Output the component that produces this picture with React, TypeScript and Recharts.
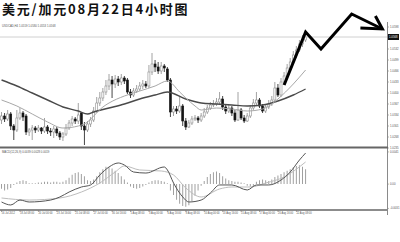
import React from 'react';
import { ComposedChart, Bar, Line, XAxis, YAxis, ReferenceLine } from 'recharts';

// 4-hour USD/CAD candles
const OPEN = [
  1.0319, 1.0331, 1.0322, 1.0337, 1.0301, 1.0289, 1.0325, 1.034, 1.0331, 1.0283,
  1.0289, 1.0295, 1.0289, 1.0295, 1.0286, 1.0298, 1.0286, 1.0283, 1.0292, 1.028,
  1.0268, 1.0277, 1.0295, 1.031, 1.0322, 1.0316, 1.034, 1.0301, 1.0289, 1.0307,
  1.0319, 1.0346, 1.037, 1.0385, 1.0403, 1.0421, 1.0439, 1.0427, 1.0442, 1.0433,
  1.0445, 1.0439, 1.0403, 1.0394, 1.0406, 1.0412, 1.0421, 1.0427, 1.0421, 1.0463,
  1.0487, 1.0478, 1.0466, 1.0481, 1.0472, 1.0439, 1.0343, 1.0352, 1.0346, 1.0361,
  1.0316, 1.0298, 1.031, 1.0322, 1.0325, 1.0319, 1.0331, 1.0343, 1.0355, 1.0364,
  1.0367, 1.0373, 1.0382, 1.0358, 1.0346, 1.0355, 1.034, 1.0319, 1.0349, 1.0325,
  1.0316, 1.0331, 1.0355, 1.037, 1.0379, 1.0361, 1.0346, 1.0358, 1.0367, 1.0379,
  1.0415, 1.0394, 1.0433, 1.0451, 1.0475, 1.0493, 1.0514, 1.0529, 1.0547, 1.0559,
];
const HIGH = [
  1.0343, 1.034, 1.0349, 1.0343, 1.0307, 1.0349, 1.0355, 1.0346, 1.0337, 1.0295,
  1.0304, 1.0301, 1.0304, 1.0298, 1.0325, 1.0304, 1.0295, 1.0301, 1.0298, 1.0286,
  1.0283, 1.0307, 1.0319, 1.0331, 1.0328, 1.037, 1.0343, 1.0313, 1.0316, 1.0328,
  1.0358, 1.0388, 1.0403, 1.0415, 1.0439, 1.0457, 1.0451, 1.0454, 1.0451, 1.0457,
  1.0451, 1.0445, 1.0412, 1.0415, 1.0424, 1.0433, 1.0439, 1.0436, 1.0484, 1.052,
  1.0499, 1.0493, 1.0493, 1.0487, 1.0478, 1.0445, 1.0361, 1.0361, 1.0388, 1.0367,
  1.0325, 1.0319, 1.0331, 1.0334, 1.0331, 1.034, 1.0355, 1.0364, 1.0373, 1.0379,
  1.0385, 1.0403, 1.0391, 1.0367, 1.0364, 1.0361, 1.0349, 1.0403, 1.0355, 1.0334,
  1.034, 1.0364, 1.0382, 1.0403, 1.0385, 1.0367, 1.0367, 1.0379, 1.0391, 1.0433,
  1.0427, 1.0445, 1.0463, 1.0487, 1.0505, 1.0526, 1.0541, 1.0559, 1.0574, 1.058,
];
const LOW = [
  1.0307, 1.0313, 1.0316, 1.0289, 1.0259, 1.0283, 1.0319, 1.0316, 1.0274, 1.0271,
  1.0259, 1.028, 1.0283, 1.0277, 1.028, 1.0277, 1.0271, 1.0265, 1.0271, 1.0259,
  1.0256, 1.0271, 1.0289, 1.0301, 1.0307, 1.0307, 1.0289, 1.0244, 1.0283, 1.0298,
  1.0313, 1.034, 1.0361, 1.0376, 1.0394, 1.0409, 1.0385, 1.0415, 1.0421, 1.0424,
  1.0427, 1.0397, 1.0385, 1.0388, 1.04, 1.0406, 1.0412, 1.0415, 1.0415, 1.0454,
  1.0463, 1.0457, 1.0457, 1.0463, 1.0433, 1.0328, 1.0331, 1.0337, 1.034, 1.0301,
  1.0289, 1.0295, 1.0304, 1.0316, 1.031, 1.0313, 1.0325, 1.0337, 1.0349, 1.0358,
  1.0361, 1.0364, 1.0349, 1.0337, 1.034, 1.0331, 1.0313, 1.0316, 1.0319, 1.031,
  1.0313, 1.0325, 1.0349, 1.0361, 1.0355, 1.034, 1.034, 1.0352, 1.0361, 1.0373,
  1.0388, 1.0388, 1.0424, 1.0445, 1.0469, 1.0487, 1.0505, 1.0523, 1.0538, 1.0553,
];
const CLOSE = [
  1.0331, 1.0322, 1.0337, 1.0301, 1.0289, 1.0325, 1.034, 1.0328, 1.0283, 1.0289,
  1.0295, 1.0289, 1.0295, 1.0286, 1.0298, 1.0286, 1.0283, 1.0292, 1.028, 1.0268,
  1.0277, 1.0295, 1.031, 1.0322, 1.0316, 1.0334, 1.0301, 1.0289, 1.0307, 1.0319,
  1.0346, 1.037, 1.0385, 1.0403, 1.0421, 1.0439, 1.0427, 1.0442, 1.0433, 1.0445,
  1.0436, 1.0403, 1.0394, 1.0406, 1.0412, 1.0421, 1.0427, 1.0421, 1.0463, 1.0487,
  1.0478, 1.0466, 1.0481, 1.0475, 1.0439, 1.0343, 1.0352, 1.0346, 1.0361, 1.0316,
  1.0298, 1.031, 1.0322, 1.0325, 1.0319, 1.0331, 1.0343, 1.0355, 1.0364, 1.0367,
  1.0373, 1.0382, 1.0358, 1.0346, 1.0355, 1.034, 1.0319, 1.0349, 1.0325, 1.0316,
  1.0331, 1.0355, 1.037, 1.0379, 1.0361, 1.0346, 1.0358, 1.0367, 1.0379, 1.0415,
  1.0394, 1.0433, 1.0451, 1.0475, 1.0493, 1.0514, 1.0529, 1.0547, 1.0559, 1.0568,
];

// moving averages, sampled at bar indices
const MA_SLOW_IDX = [0, 5, 10, 15, 20, 25, 28, 30, 35, 40, 45, 50, 54, 60, 65, 70, 75, 80, 85, 90, 95, 99];
const MA_SLOW = [1.0439, 1.0421, 1.04, 1.0379, 1.0358, 1.0346, 1.0337, 1.0343, 1.0355, 1.0367, 1.0382, 1.0394, 1.0403, 1.0382, 1.037, 1.0367, 1.0364, 1.0361, 1.0364, 1.0376, 1.0394, 1.0412];
const MA_FAST_IDX = [0, 5, 10, 15, 20, 25, 28, 30, 33, 35, 40, 45, 50, 54, 58, 60, 63, 65, 70, 75, 80, 85, 88, 90, 95, 99];
const MA_FAST = [1.0379, 1.0361, 1.0337, 1.0313, 1.0295, 1.0301, 1.0313, 1.0331, 1.0358, 1.037, 1.0391, 1.0406, 1.0421, 1.0436, 1.0403, 1.0385, 1.0361, 1.0349, 1.0355, 1.0352, 1.0346, 1.0352, 1.0367, 1.0382, 1.0427, 1.0469];

// forecast path
const ARROW_IDX = [92, 99, 104, 114, 124];
const ARROW_PRICE = [1.0424, 1.0583, 1.0532, 1.0637, 1.0592];

// MACD(12,26,9)
const MACD_HIST = [
  -0.0006, -0.0008, -0.0007, -0.0005, -0.0001, 0.0002, 0.0004, 0.0005, 0.0004, 0.0001,
  0.0001, 0.0001, 0.0002, 0.0002, 0.0003, 0.0003, 0.0002, 0.0003, 0.0003, 0.0002,
  0.0003, 0.0005, 0.0008, 0.0012, 0.0014, 0.0015, 0.0013, 0.001, 0.0005, 0.0004,
  0.0006, 0.001, 0.0015, 0.0019, 0.0022, 0.0021, 0.002, 0.0017, 0.0014, 0.001,
  0.0006, 0.0002, -0.0003, -0.0005, -0.0006, -0.0005, -0.0003, -0.0001, 0.0002, 0.0004,
  0.0005, 0.0005, 0.0004, 0.0003, 0.0001, -0.0008, -0.0014, -0.002, -0.0025, -0.0028,
  -0.0029, -0.0027, -0.0022, -0.0015, -0.0008, -0.0002, 0.0004, 0.0009, 0.0013, 0.0015,
  0.0016, 0.0014, 0.001, 0.0007, 0.0005, 0.0004, 0.0003, 0.0003, 0.0002, 0.0001,
  -0.0002, -0.0003, -0.0002, 0.0003, 0.0005, 0.0006, 0.0005, 0.0004, 0.0006, 0.0009,
  0.0011, 0.0013, 0.0015, 0.0017, 0.0019, 0.0021, 0.0023, 0.0024, 0.0022, 0.0019,
];
const MACD_MAIN_IDX = [0, 3, 6, 9, 16, 19, 22, 26, 29, 32, 35, 38, 40, 43, 47, 53, 54, 56, 59, 61, 65, 68, 71, 75, 80, 83, 87, 91, 94, 97, 99];
const MACD_MAIN = [-0.00228, -0.00266, -0.00203, -0.00228, -0.00203, -0.00164, -0.00101, -0.00037, -0.00011, 0.00116, 0.00218, 0.00269, 0.00243, 0.00154, 0.00141, 0.00218, 0.0018, 0.00014, -0.00164, -0.00228, -0.00203, -0.00113, -0.00011, -0.00011, -0.00075, -0.00011, -0.00011, 0.00052, 0.00154, 0.00307, 0.00396];
const MACD_SIGNAL_IDX = [0, 9, 19, 26, 32, 37, 40, 45, 52, 56, 60, 65, 71, 75, 81, 86, 92, 99];
const MACD_SIGNAL = [-0.00177, -0.00203, -0.00177, -0.00101, 0.00014, 0.00154, 0.00231, 0.0018, 0.00167, 0.00116, -0.0005, -0.00164, -0.00062, -0.00037, -0.00037, 0.00014, 0.0009, 0.00282];

const PRICE_TICKS = [1.0598, 1.0532, 1.0499, 1.0466, 1.0433, 1.04, 1.0367, 1.0334, 1.0301, 1.0268, 1.0235];
const MACD_TICKS = [0.0041, 0, -0.0031];
const DATE_LABELS = [
  '16 Jul 2012', '18 Jul 08:00', '20 Jul 00:00', '23 Jul 16:00', '25 Jul 08:00', '27 Jul 00:00',
  '30 Jul 16:00', '1 Aug 08:00', '3 Aug 00:00', '6 Aug 16:00', '8 Aug 08:00', '10 Aug 00:00',
  '13 Aug 16:00', '15 Aug 08:00', '17 Aug 00:00', '20 Aug 16:00', '22 Aug 08:00',
];
const BARS_PER_LABEL = 6;
const SLOTS = 126;

const W = 400;
const AXIS_W = 13;
const TINY = '"Liberation Sans", Arial, sans-serif';

const rows = Array.from({ length: SLOTS }, (_, i) => {
  const has = i < OPEN.length;
  return {
    idx: i,
    open: has ? OPEN[i] : null,
    high: has ? HIGH[i] : null,
    low: has ? LOW[i] : null,
    close: has ? CLOSE[i] : null,
    range: has ? [LOW[i], HIGH[i]] : null,
    hist: has ? MACD_HIST[i] : null,
  };
});

const pairs = (idx: number[], vals: number[]) => idx.map((i, k) => ({ idx: i, v: vals[k] }));
const slowRows = pairs(MA_SLOW_IDX, MA_SLOW);
const fastRows = pairs(MA_FAST_IDX, MA_FAST);
const arrowRows = pairs(ARROW_IDX, ARROW_PRICE);
const macdRows = pairs(MACD_MAIN_IDX, MACD_MAIN);
const signalRows = pairs(MACD_SIGNAL_IDX, MACD_SIGNAL);

const Candle = (props: any) => {
  const { x, y, width, height, payload } = props;
  if (!payload || payload.open == null || !isFinite(y) || !isFinite(height)) return null;
  const top = Math.min(y, y + height);
  const h = Math.abs(height);
  const span = payload.high - payload.low;
  const toPx = (v: number) => (span === 0 ? top : top + ((payload.high - v) / span) * h);
  const cx = x + width / 2;
  const bull = payload.close >= payload.open;
  const oy = toPx(payload.open);
  const cy = toPx(payload.close);
  const bt = Math.min(oy, cy);
  const bh = Math.max(Math.abs(oy - cy), 0.8);
  const color = bull ? '#8c8c8c' : '#151515';
  return (
    <g>
      <line x1={cx} x2={cx} y1={top} y2={top + h} stroke={color} strokeWidth={0.8} />
      <rect x={cx - 1} y={bt} width={2} height={bh} fill={bull ? '#ffffff' : '#151515'} stroke={color} strokeWidth={0.6} />
    </g>
  );
};

const ArrowDot = (props: any) => {
  const { cx, cy, index } = props;
  if (index !== ARROW_IDX.length - 1 || cx == null || cy == null) return <g key={index} />;
  return (
    <g key={index}>
      <path d={`M${cx - 22},${cy - 1} L${cx},${cy} L${cx - 7},${cy - 13}`} fill="none" stroke="#000" strokeWidth={3} strokeLinejoin="miter" />
    </g>
  );
};

const PriceBox = (props: any) => {
  const vb = props.viewBox || {};
  const x = (vb.x || 0) + (vb.width || 0) + 1;
  const y = vb.y || 0;
  return (
    <g>
      <rect x={x} y={y - 3} width={11} height={6} fill="#111" />
      <text x={x + 1} y={y + 1} fontSize={2.8} fill="#fff" fontFamily={TINY}>{CLOSE[CLOSE.length - 1].toFixed(4)}</text>
    </g>
  );
};

const DateTick = (props: any) => {
  const { x, y, payload } = props;
  const v = Number(payload.value);
  const k = v / BARS_PER_LABEL;
  if (!Number.isInteger(k) || k >= DATE_LABELS.length) return <g />;
  return (
    <g>
      <line x1={x} x2={x} y1={y - 8} y2={y - 6} stroke="#777" strokeWidth={0.6} />
      <text x={x} y={y - 4} fontSize={2.6} fill="#555" fontFamily={TINY} textAnchor="start">{DATE_LABELS[k]}</text>
    </g>
  );
};

export default function App() {
  return (
    <div style={{ position: 'absolute', left: 0, top: 0, width: W, height: 242, background: '#fff', overflow: 'hidden' }}>
      <div style={{ position: 'absolute', left: 0, top: 0 }}>
        <ComposedChart width={W} height={152} data={rows} margin={{ top: 0, right: 0, bottom: 4, left: 0 }}>
          <XAxis dataKey="idx" hide allowDuplicatedCategory={false} />
          <YAxis
            orientation="right"
            width={AXIS_W}
            domain={[1.0235, 1.0679]}
            allowDataOverflow
            ticks={PRICE_TICKS}
            interval={0}
            axisLine={false}
            tickLine={{ stroke: '#888', strokeWidth: 0.6 }}
            tickSize={2}
            tickMargin={1}
            tick={{ fontSize: 2.8, fill: '#555', fontFamily: TINY }}
            tickFormatter={(v: number) => v.toFixed(4)}
          />
          <ReferenceLine y={CLOSE[CLOSE.length - 1]} stroke="#d0d0d0" strokeWidth={1} label={<PriceBox />} />
          <Line data={slowRows} dataKey="v" type="monotone" dot={false} activeDot={false} stroke="#4a4a4a" strokeWidth={1.4} isAnimationActive={false} />
          <Line data={fastRows} dataKey="v" type="monotone" dot={false} activeDot={false} stroke="#a8a8a8" strokeWidth={1} isAnimationActive={false} />
          <Bar dataKey="range" shape={Candle} barSize={3} isAnimationActive={false} />
          <Line data={arrowRows} dataKey="v" type="linear" dot={ArrowDot} activeDot={false} stroke="#000" strokeWidth={3} strokeLinejoin="miter" isAnimationActive={false} />
        </ComposedChart>
      </div>
      <div style={{ position: 'absolute', left: 0, top: 148 }}>
        <ComposedChart width={W} height={70} data={rows} margin={{ top: 0, right: 0, bottom: 0, left: 0 }} barCategoryGap={0}>
          <XAxis
            dataKey="idx"
            allowDuplicatedCategory={false}
            height={8}
            interval={0}
            axisLine={{ stroke: '#666', strokeWidth: 1.5 }}
            tickLine={false}
            tick={<DateTick />}
          />
          <YAxis
            orientation="right"
            width={AXIS_W}
            domain={[-0.0033, 0.0046]}
            allowDataOverflow
            ticks={MACD_TICKS}
            interval={0}
            axisLine={false}
            tickLine={{ stroke: '#888', strokeWidth: 0.6 }}
            tickSize={2}
            tickMargin={1}
            tick={{ fontSize: 2.8, fill: '#555', fontFamily: TINY }}
            tickFormatter={(v: number) => (v === 0 ? '0.00' : v.toFixed(4))}
          />
          <Bar dataKey="hist" fill="#a0a0a0" barSize={1} isAnimationActive={false} />
          <Line data={signalRows} dataKey="v" type="monotone" dot={false} activeDot={false} stroke="#bdbdbd" strokeWidth={1} isAnimationActive={false} />
          <Line data={macdRows} dataKey="v" type="monotone" dot={false} activeDot={false} stroke="#555" strokeWidth={1} isAnimationActive={false} />
        </ComposedChart>
      </div>
      <svg width={W} height={242} style={{ position: 'absolute', left: 0, top: 0, pointerEvents: 'none' }}>
        <text x={2} y={13.5} fontSize={13} fontWeight={700} letterSpacing={1.8} fill="#111" fontFamily={'"Noto Sans CJK SC", sans-serif'}>美元/加元08月22日4小时图</text>
        <text x={2} y={27} fontSize={2.8} fill="#555" fontFamily={TINY}>USDCAD,H4  1.0559 1.0580 1.0553 1.0568</text>
        <text x={2} y={153} fontSize={2.8} fill="#555" fontFamily={TINY}>MACD(12,26,9) 0.0039 0.0028 0.0019</text>
        <line x1={W - AXIS_W + 0.5} x2={W - AXIS_W + 0.5} y1={22} y2={215} stroke="#8a8a8a" strokeWidth={1} />
        <line x1={0} x2={W - AXIS_W + 1} y1={147.5} y2={147.5} stroke="#666" strokeWidth={2} />
      </svg>
    </div>
  );
}
